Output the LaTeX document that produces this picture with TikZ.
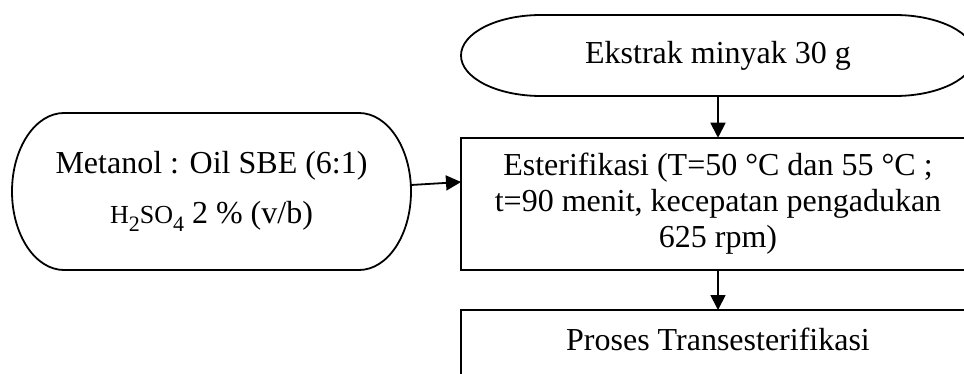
\documentclass[tikz,border=0pt]{standalone}
\usepackage{fontspec}
\setmainfont{Liberation Serif}
\usetikzlibrary{arrows.meta}

\begin{document}
\begin{tikzpicture}[
		x = 0.5pt, y = -0.5pt,
		every node/.style = {
			shape = rectangle,
			font = \fontsize{16pt}{18pt}\selectfont,
			align = center,
			outer sep = 0pt,
			inner sep = 0pt,
		},
		process/.style = {
			draw,
			line width = 0.9pt,
			minimum width = 257pt,
		},
		flow/.style = {
			-{Triangle[length = 7.5pt, width = 7.5pt]},
			line width = 0.9pt,
		},
	]
	\useasboundingbox (0, 0) rectangle (964, 374);
	\clip (0, 0) rectangle (964, 374);

	\draw (718, 55.5) node (ekstrak) [minimum width = 257pt, minimum height = 40.5pt] {Ekstrak minyak 30 g};
	\draw (718, 204) node (ester) [process, minimum height = 66.25pt] {Esterifikasi (T=50 °C dan 55 °C ;\\ t=90 menit, kecepatan pengadukan\\ 625 rpm)};
	\draw (718, 310) node (proses) [process, anchor = north, text height = 20pt, text depth = 30pt] {Proses Transesterifikasi};
	\draw (211.5, 191.5) node (metanol) [minimum width = 199.5pt, minimum height = 78.5pt] {Metanol : Oil SBE (6:1)\\[7pt] {\fontsize{13pt}{18pt}\selectfont H\raisebox{-4pt}{\fontsize{11pt}{12pt}\selectfont 2}SO\raisebox{-4pt}{\fontsize{11pt}{12pt}\selectfont 4}} 2 \% (v/b)};

	% terminal outlines
	\foreach \n/\rx/\ry in {ekstrak/40pt/20.25pt, metanol/26pt/39.25pt}
		\draw [line width = 0.9pt] ([xshift = \rx]\n.north west) -- ([xshift = -\rx]\n.north east)
			arc [start angle = 90, end angle = -90, x radius = \rx, y radius = \ry]
			-- ([xshift = \rx]\n.south west)
			arc [start angle = 270, end angle = 90, x radius = \rx, y radius = \ry] -- cycle;

	\draw [flow] (ekstrak) -- (ester);
	\draw [flow] (ester) -- (proses);
	\draw [flow] ([yshift = 3.25pt]metanol.east) -- ([yshift = 11pt]ester.west);
\end{tikzpicture}
\end{document}
